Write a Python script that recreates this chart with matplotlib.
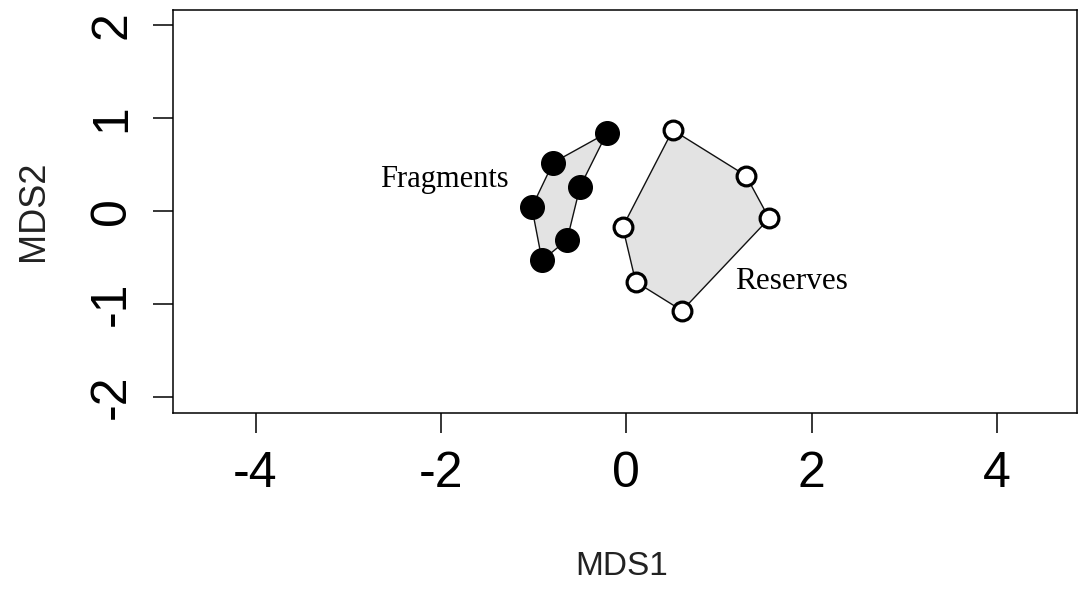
import numpy as np
import matplotlib.pyplot as plt
from matplotlib.patches import Polygon

# NMDS site scores
frag_x = [-0.21, -0.79, -0.50, -1.02, -0.64, -0.91]
frag_y = [0.84, 0.52, 0.26, 0.04, -0.31, -0.53]
res_x = [0.50, 1.29, 1.54, -0.04, 0.10, 0.60]
res_y = [0.87, 0.38, -0.08, -0.17, -0.76, -1.07]

x_ticks = [-4, -2, 0, 2, 4]
y_ticks = [-2, -1, 0, 1, 2]


def hull_order(xs, ys):
    # order points around their centre so the outline goes round them
    xs = np.asarray(xs)
    ys = np.asarray(ys)
    ang = np.arctan2(ys - ys.mean(), xs - xs.mean())
    idx = np.argsort(ang)
    return np.column_stack([xs[idx], ys[idx]])


fig = plt.figure(figsize=(10.78, 5.92), dpi=100)
ax = fig.add_axes([173 / 1078, (592 - 413) / 592, (1077 - 173) / 1078, (413 - 10) / 592])

for xs, ys in [(frag_x, frag_y), (res_x, res_y)]:
    ax.add_patch(Polygon(hull_order(xs, ys), closed=True, facecolor="#e3e3e3",
                         edgecolor="#111111", linewidth=1.0, zorder=1))

ax.plot(frag_x, frag_y, "o", color="black", markersize=17,
        markeredgewidth=1, zorder=3)
ax.plot(res_x, res_y, "o", markerfacecolor="white", markeredgecolor="black",
        markersize=13.5, markeredgewidth=2.3, zorder=3)

ax.text(-1.96, 0.26, "Fragments", family="Liberation Serif", fontsize=22,
        ha="center", va="baseline")
ax.text(1.78, -0.84, "Reserves", family="Liberation Serif", fontsize=22.5,
        ha="center", va="baseline")

ax.set_xlim(-4.89, 4.86)
ax.set_ylim(-2.17, 2.16)
ax.set_xticks(x_ticks)
ax.set_yticks(y_ticks)
ax.set_xticklabels([str(v) for v in x_ticks], family="Liberation Sans", fontsize=36)
ax.set_yticklabels([str(v) for v in y_ticks], family="Liberation Sans", fontsize=36)
ax.tick_params(axis="both", length=14.4, width=1.1, direction="out")
ax.tick_params(axis="x", pad=13)
ax.tick_params(axis="y", pad=20)
for lbl in ax.get_yticklabels():
    lbl.set(rotation=90, rotation_mode="anchor", ha="center", va="baseline")

for sp in ax.spines.values():
    sp.set_linewidth(1.1)

fig.text(622 / 1078, 1 - 575 / 592, "MDS1", family="Liberation Sans",
         fontsize=24, color="#222222", ha="center", va="baseline")
fig.text(43 / 1078, 1 - 211 / 592, "MDS2", family="Liberation Sans",
         fontsize=26, color="#222222", ha="center", va="baseline",
         rotation=90, rotation_mode="anchor")

fig.savefig("out.png", dpi=100)
